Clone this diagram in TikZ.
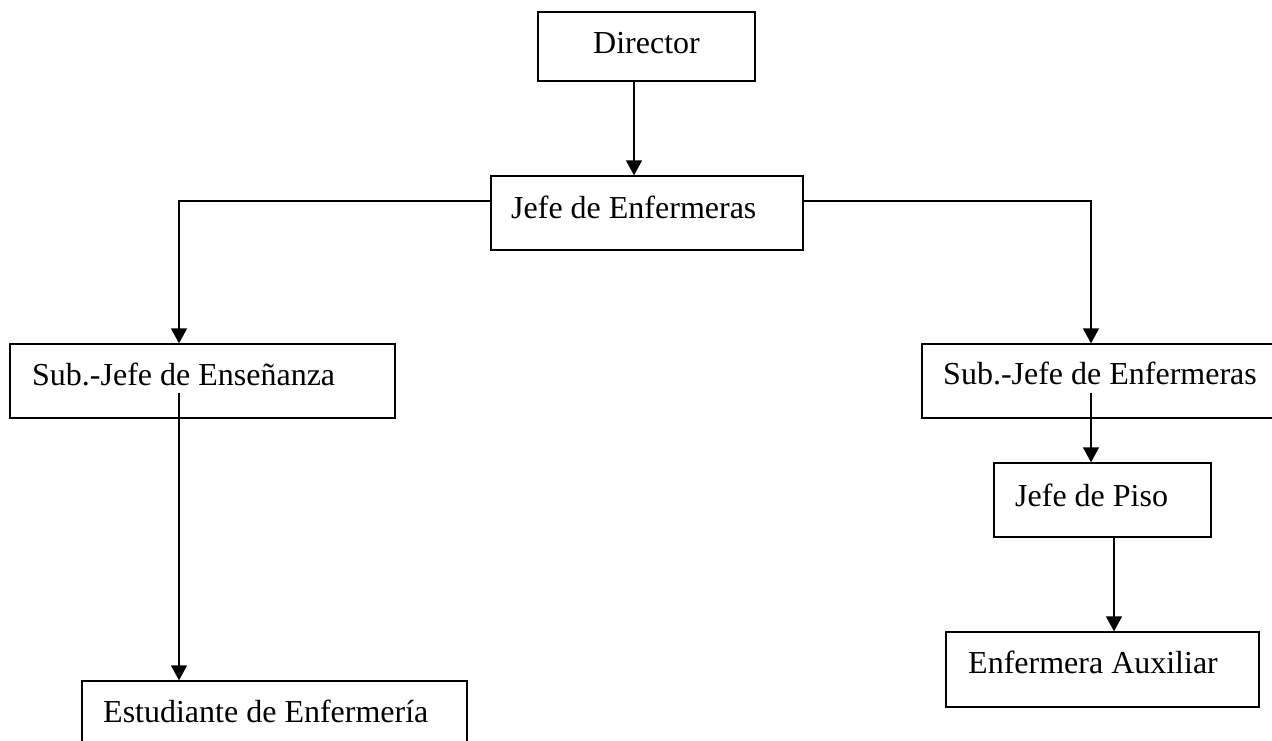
\documentclass[tikz,border=0pt]{standalone}
\usepackage{fontspec}
\setmainfont{Liberation Serif}
\usetikzlibrary{arrows.meta}
\begin{document}
\begin{tikzpicture}[x=1pt,y=-1pt,
  box/.style={draw,line width=1.4pt,inner sep=0pt,minimum width=#1},
  box/.default=200pt,
  lbl/.style={inner sep=0pt,anchor=base west,font=\fontsize{32}{38}\selectfont},
  link/.style={line width=1.4pt,-{Triangle[width=16pt,length=15pt]}},
  plain/.style={line width=1.4pt}]
\useasboundingbox (0,0) rectangle (1272,740);
\clip (0,0) rectangle (1272,740);

% boxes of the chart
\node[box=217pt,minimum height=69pt] (dir)   at (646.5,46.5) {};
\node[box=312pt,minimum height=74pt] (jefe)  at (647,213)    {};
\node[box=385pt,minimum height=74pt] (subens) at (202.5,381) {};
\node[box=358pt,minimum height=74pt] (subenf) at (1101,381)  {};
\node[box=217pt,minimum height=74pt] (piso)  at (1102.5,500) {};
\node[box=313pt,minimum height=75pt] (aux)   at (1102.5,669.5) {};
\node[box=385pt,minimum height=74pt] (estud) at (274.5,718)  {};

% texts
\node[lbl,anchor=base] (tdir) at (646.5,53) {Director};
\node[lbl] (tjefe)   at (511,218)  {Jefe de Enfermeras};
\node[lbl] (tsubens) at (32,385)   {Sub.-Jefe de Enseñanza};
\node[lbl] (tsubenf) at (943,384)  {Sub.-Jefe de Enfermeras};
\node[lbl] (tpiso)   at (1015,506) {Jefe de Piso};
\node[lbl] (taux)    at (968,673)  {Enfermera Auxiliar};
\node[lbl] (testud)  at (103,722)  {Estudiante de Enfermería};

% free starts of the links that leave from inside a box
\coordinate (ensstart) at (179,393);
\coordinate (enfstart) at (1091,393);

% links
\draw[link] ([xshift=-12.5pt]dir.south) -- ([xshift=-12.5pt]dir.south |- jefe.north);
\draw[link] ([yshift=12pt]jefe.west) -| ([xshift=-23.5pt]subens.north);
\draw[link] ([yshift=12pt]jefe.east) -| ([xshift=-10pt]subenf.north);
\draw[link] (ensstart) -- (ensstart |- estud.north);
\draw[link] (enfstart) -- (enfstart |- piso.north);
\draw[link] ([xshift=11.5pt]piso.south) -- ([xshift=11.5pt]piso.south |- aux.north);
\end{tikzpicture}
\end{document}
